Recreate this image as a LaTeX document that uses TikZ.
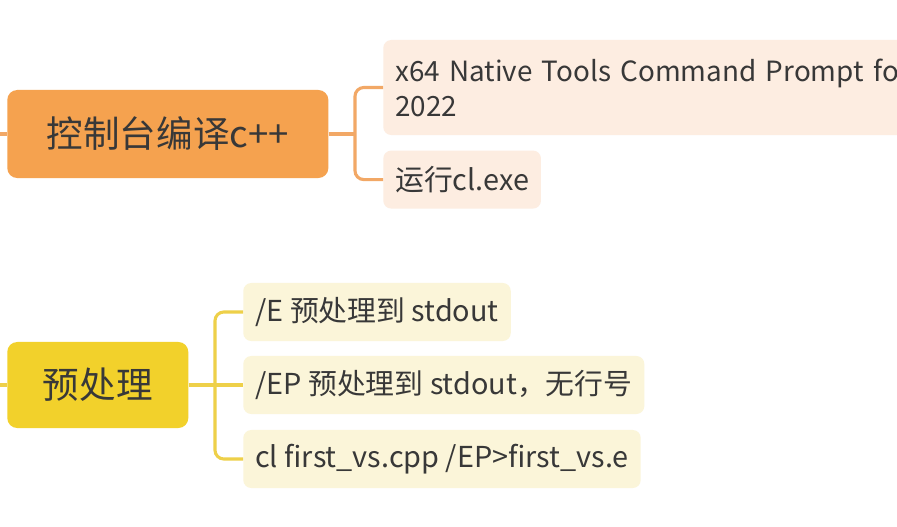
\documentclass[tikz,border=0pt]{standalone}
\usepackage{fontspec}
\setmainfont{Noto Sans CJK SC}
\usetikzlibrary{positioning}
\definecolor{orangetopic}{HTML}{F5A24F}
\definecolor{orangesub}{HTML}{FDEDE1}
\definecolor{orangeline}{HTML}{F2A866}
\definecolor{yellowtopic}{HTML}{F2D12B}
\definecolor{yellowsub}{HTML}{FBF5D9}
\definecolor{yellowline}{HTML}{EED049}
\definecolor{inktext}{HTML}{383838}
\tikzset{
  topic/.style={
    rounded corners=0.25cm, anchor=west, inner sep=0pt,
    minimum height=2.2cm, text=inktext, font=\fontsize{26}{30}\selectfont,
  },
  sub/.style={
    rounded corners=0.2cm, anchor=west, inner xsep=0.3cm, inner ysep=0pt,
    minimum height=1.45cm, text=inktext, font=\fontsize{20.5}{25}\selectfont,
  },
  branch/.style={line width=2.2pt, rounded corners=0.22cm},
}
\begin{document}
\begin{tikzpicture}[x=0.025cm, y=-0.025cm]
\useasboundingbox (0,0) rectangle (897,527);
\clip (0,0) rectangle (897,527);
\fill[white] (0,0) rectangle (897,527);

% ---- first topic ----------------------------------------------------------
\node[topic, fill=orangetopic, minimum width=8.025cm] (ctrl) at (7,134) {控制台编译c++};
\coordinate (ctrlin) at (-10,134);
\coordinate (ctrlfork) at (355,134);

\node[sub, fill=orangesub, text width=15cm, align=left, minimum height=2.375cm,
  font=\fontsize{19.8}{25}\selectfont]
  (prompt) at (383,87.5) {x64 Native Tools Command Prompt for\\2022};
\node[sub, fill=orangesub, below=0.375cm of prompt.south west, anchor=north west]
  (runcl) {运行cl.exe};

\draw[branch, orangeline] (ctrlin) -- (ctrl.west);
\draw[branch, orangeline] (ctrl.east) -- (ctrlfork);
\draw[branch, orangeline] (prompt.west) -| (ctrlfork) |- (runcl.west);

% ---- second topic ---------------------------------------------------------
\node[topic, fill=yellowtopic, minimum width=4.525cm, minimum height=2.15cm] (prep) at (7,385) {预处理};
\coordinate (prepin) at (-10,385);
\coordinate (prepfork) at (215,385);

\node[sub, fill=yellowsub] (optE)  at (243,312) {/E 预处理到 stdout};
\node[sub, fill=yellowsub] (optEP) at (243,385) {/EP 预处理到 stdout，无行号};
\node[sub, fill=yellowsub] (cmdEP) at (243,459) {cl first\_vs.cpp /EP>first\_vs.e};

\draw[branch, yellowline] (prepin) -- (prep.west);
\draw[branch, yellowline] (prep.east) -- (prepfork) -- (optEP.west);
\draw[branch, yellowline] (optE.west) -| (prepfork) |- (cmdEP.west);

\end{tikzpicture}
\end{document}
